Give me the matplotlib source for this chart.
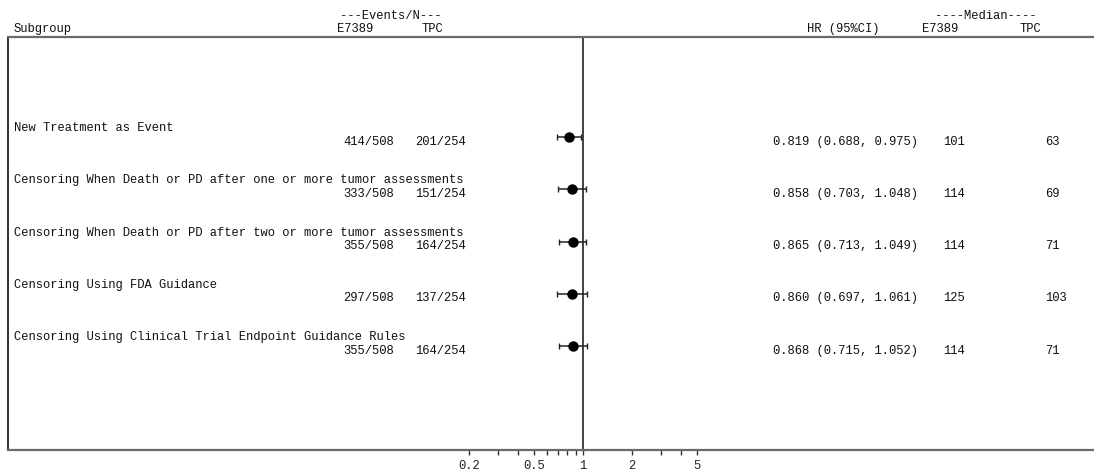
import matplotlib
matplotlib.use("Agg")
import matplotlib.pyplot as plt
import matplotlib.transforms as mtransforms
from matplotlib.ticker import FixedLocator, NullFormatter, FixedFormatter
import numpy as np

# ---- data ----
subgroups = [
    "New Treatment as Event",
    "Censoring When Death or PD after one or more tumor assessments",
    "Censoring When Death or PD after two or more tumor assessments",
    "Censoring Using FDA Guidance",
    "Censoring Using Clinical Trial Endpoint Guidance Rules",
]
e7389_events = [414, 333, 355, 297, 355]
e7389_n = [508, 508, 508, 508, 508]
tpc_events = [201, 151, 164, 137, 164]
tpc_n = [254, 254, 254, 254, 254]
hr = [0.819, 0.858, 0.865, 0.860, 0.868]
hr_lo = [0.688, 0.703, 0.713, 0.697, 0.715]
hr_hi = [0.975, 1.048, 1.049, 1.061, 1.052]
median_e7389 = [101, 114, 114, 125, 114]
median_tpc = [63, 69, 71, 103, 71]
major_ticks = [0.2, 0.5, 1, 2, 5]
major_labels = ["0.2", "0.5", "1", "2", "5"]
minor_ticks = [0.3, 0.4, 0.6, 0.7, 0.8, 0.9, 3, 4]

# ---- layout (pixels) ----
W, H = 1094, 470
FONT = "Liberation Mono"
FS = 8.75
box_left, box_top, box_bottom = 8, 37, 450
x_one, px_per_decade = 583, 163
row0, row_step = 137, 52.25

fig = plt.figure(figsize=(W / 100, H / 100), dpi=100)
ax = fig.add_axes([box_left / W, 1 - box_bottom / H, (W - box_left + 5) / W, (box_bottom - box_top) / H])

xmin = 10 ** ((box_left - x_one) / px_per_decade)
xmax = 10 ** ((W + 5 - x_one) / px_per_decade)
ax.set_xscale("log")
ax.set_xlim(xmin, xmax)
ytop = (box_top - row0) / row_step
ybot = (box_bottom - row0) / row_step
ax.set_ylim(ybot, ytop)

ax.spines["right"].set_visible(False)
ax.spines["top"].set_color("#6a6a6a")
ax.spines["top"].set_linewidth(1.6)
ax.spines["bottom"].set_color("#6a6a6a")
ax.spines["bottom"].set_linewidth(1.6)
ax.spines["left"].set_color("#222222")
ax.spines["left"].set_linewidth(1.3)

ax.set_yticks([])
ax.xaxis.set_major_locator(FixedLocator(major_ticks))
ax.xaxis.set_major_formatter(FixedFormatter(major_labels))
ax.xaxis.set_minor_locator(FixedLocator(minor_ticks))
ax.xaxis.set_minor_formatter(NullFormatter())
ax.tick_params(axis="x", which="both", direction="out", length=3.5, width=1.0,
               color="#333333", pad=3.5)
for lab in ax.get_xticklabels():
    lab.set_fontfamily(FONT)
    lab.set_fontsize(FS)
    lab.set_color("#222222")

ax.axvline(1, color="#333333", lw=1.3)

rows = np.arange(len(subgroups))
ax.errorbar(hr, rows, xerr=[np.array(hr) - np.array(hr_lo), np.array(hr_hi) - np.array(hr)],
            fmt="o", color="black", ms=6.5, elinewidth=1.1, capsize=2, capthick=1.0,
            ecolor="#222222")

trans = mtransforms.blended_transform_factory(fig.transFigure, ax.transData)
tkw = dict(fontfamily=FONT, fontsize=FS, color="#111111", va="center", ha="left")

for i in rows:
    ax.text(14 / W, i - 0.17, subgroups[i], transform=trans, **tkw)
    y2 = i + 0.09
    ax.text(343 / W, y2, f"{e7389_events[i]}/{e7389_n[i]}", transform=trans, **tkw)
    ax.text(415 / W, y2, f"{tpc_events[i]}/{tpc_n[i]}", transform=trans, **tkw)
    ax.text(773 / W, y2, f"{hr[i]:.3f} ({hr_lo[i]:.3f}, {hr_hi[i]:.3f})", transform=trans, **tkw)
    ax.text(943 / W, y2, f"{median_e7389[i]}", transform=trans, **tkw)
    ax.text(1045 / W, y2, f"{median_tpc[i]}", transform=trans, **tkw)

hkw = dict(fontfamily=FONT, fontsize=FS, color="#111111", va="center", ha="left")
fig.text(14 / W, 1 - 29 / H, "Subgroup", **hkw)
fig.text(340 / W, 1 - 16 / H, "---Events/N---", **hkw)
fig.text(337 / W, 1 - 29 / H, "E7389", **hkw)
fig.text(421 / W, 1 - 29 / H, "TPC", **hkw)
fig.text(807 / W, 1 - 29 / H, "HR (95%CI)", **hkw)
fig.text(935 / W, 1 - 16 / H, "----Median----", **hkw)
fig.text(922 / W, 1 - 29 / H, "E7389", **hkw)
fig.text(1020 / W, 1 - 29 / H, "TPC", **hkw)

fig.savefig("out.png", dpi=100)
